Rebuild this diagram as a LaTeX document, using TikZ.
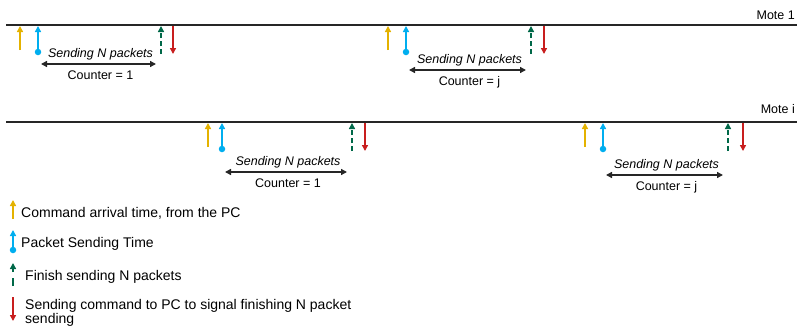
\documentclass[tikz,border=0pt]{standalone}
\usepackage{fontspec}
\setmainfont{Liberation Sans}
\usetikzlibrary{arrows.meta,calc}
\definecolor{cmdyellow}{RGB}{228,178,0}
\definecolor{pktblue}{RGB}{0,174,239}
\definecolor{fingreen}{RGB}{0,104,72}
\definecolor{sigred}{RGB}{200,30,30}
\tikzset{
  timeline/.style={line width=1.6pt, black!85},
  tip/.style={-{Triangle[length=6pt,width=6pt]}},
  cmdarrow/.style={tip, cmdyellow, line width=1.4pt},
  pktarrow/.style={tip, pktblue, line width=1.4pt},
  finarrow/.style={tip, fingreen, line width=1.4pt, dash pattern=on 5pt off 3pt},
  sigarrow/.style={tip, sigred, line width=1.4pt},
  span/.style={{Triangle[length=6pt,width=6pt]}-{Triangle[length=6pt,width=6pt]}, black!85, line width=1.4pt},
  lbl/.style={font=\fontsize{12.5}{14}\selectfont, inner sep=0pt, anchor=base},
  slbl/.style={lbl, font=\fontsize{12.5}{14}\selectfont\itshape},
  legend/.style={font=\fontsize{14}{16}\selectfont, inner sep=0pt, anchor=base west, align=left},
  dot/.style={circle, fill=pktblue, inner sep=0pt, minimum size=6.5pt}
}
% one sending period on a time line:
% #1 name, #2 yellow x, #3 blue x, #4 green x, #5 red x, #6 line y, #7 span y, #8 counter text
\newcommand{\period}[8]{%
  \coordinate (#1y0) at (#2,#6+25); \coordinate (#1y1) at (#2,#6+1);
  \draw[cmdarrow] (#1y0) -- (#1y1);
  \node[dot] (#1b0) at (#3,#6+27) {};
  \coordinate (#1b1) at (#3,#6+1);
  \draw[pktarrow] (#1b0.center) -- (#1b1);
  \coordinate (#1g0) at (#4,#6+29); \coordinate (#1g1) at (#4,#6+1);
  \draw[finarrow] (#1g0) -- (#1g1);
  \coordinate (#1r0) at (#5,#6+1); \coordinate (#1r1) at (#5,#6+29);
  \draw[sigarrow] (#1r0) -- (#1r1);
  \coordinate (#1s0) at (#3+3,#7); \coordinate (#1s1) at (#4-5,#7);
  \draw[span] (#1s0) -- (#1s1);
  \node[slbl] (#1t) at ($(#1s0)!0.5!(#1s1)+(2,-7)$) {Sending N packets};
  \node[lbl] (#1c) at ($(#1s0)!0.5!(#1s1)+(2,15)$) {#8};
}
\begin{document}
\begin{tikzpicture}[x=1pt,y=-1pt]
\useasboundingbox (0,0) rectangle (803,327);
% time lines
\coordinate (l1a) at (6,25); \coordinate (l1b) at (797,25);
\coordinate (l2a) at (6,122); \coordinate (l2b) at (797,122);
\draw[timeline] (l1a) -- (l1b);
\draw[timeline] (l2a) -- (l2b);
\node[lbl, anchor=base east] (m1) at (795,19) {Mote 1};
\node[lbl, anchor=base east] (mi) at (795,113) {Mote i};

\period{pa}{20}{38}{161}{173}{25}{64}{Counter = 1}
\period{pb}{388}{406}{531}{544}{25}{70}{Counter = j}
\period{pc}{208}{222}{352}{365}{122}{172}{Counter = 1}
\period{pd}{585}{603}{728}{743}{122}{175}{Counter = j}

% legend
\coordinate (ky0) at (13,219); \coordinate (ky1) at (13,200);
\draw[cmdarrow] (ky0) -- (ky1);
\node[legend] (ky) at (21,217) {Command arrival time, from the PC};

\node[dot] (kb0) at (13,250) {};
\coordinate (kb1) at (13,230);
\draw[pktarrow] (kb0.center) -- (kb1);
\node[legend] (kb) at (21,247) {Packet Sending Time};

\coordinate (kg0) at (13,286); \coordinate (kg1) at (13,263);
\draw[finarrow, dash pattern=on 8pt off 6pt] (kg0) -- (kg1);
\node[legend] (kg) at (25,280) {Finish sending N packets};

\coordinate (kr0) at (13,297); \coordinate (kr1) at (13,321);
\draw[sigarrow] (kr0) -- (kr1);
\node[legend] (kr) at (25,309) {Sending command to PC to signal finishing N packet};
\node[legend] (kr2) at (25,323) {sending};
\end{tikzpicture}
\end{document}
